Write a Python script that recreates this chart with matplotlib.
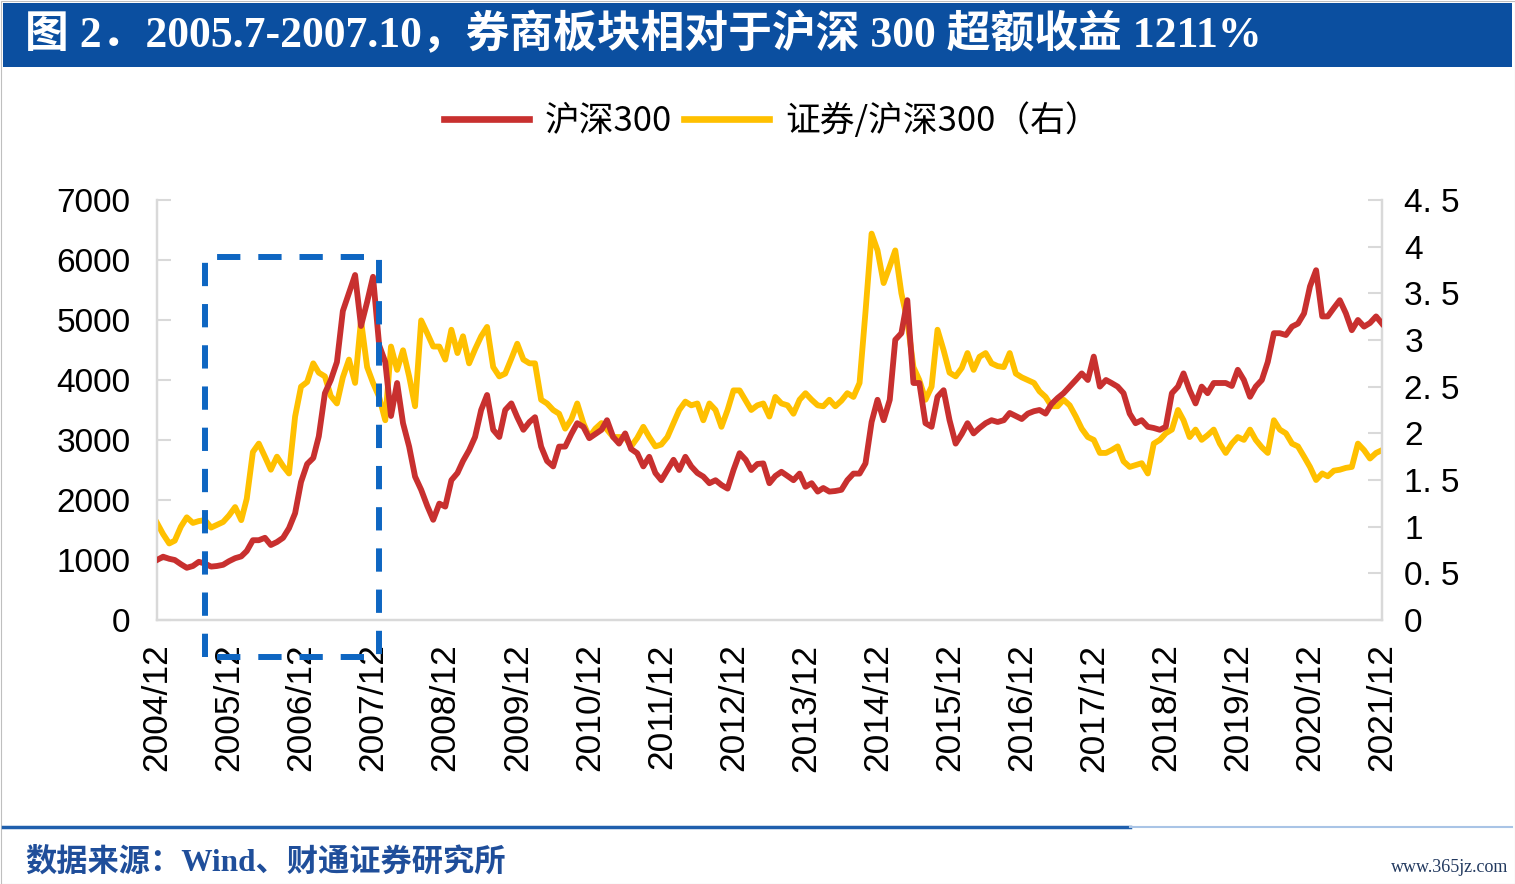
import matplotlib
matplotlib.use("Agg")
import matplotlib.pyplot as plt
from matplotlib.lines import Line2D
from matplotlib.patches import Rectangle
import pandas as pd

# ---------------- data ----------------
start_month = "2004-12-01"
end_month = "2021-12-01"

hs300 = [1000, 1055, 1020, 1000, 930, 870, 900, 970, 940, 890,
         900, 920, 980, 1030, 1060, 1150, 1330, 1330, 1370, 1250,
         1300, 1370, 1530, 1780, 2300, 2600, 2700, 3060, 3780, 4000,
         4300, 5150, 5450, 5750, 4900, 5300, 5720, 4580, 4300, 3400,
         3950, 3280, 2890, 2390, 2170, 1900, 1670, 1940, 1890, 2330,
         2450, 2650, 2830, 3050, 3500, 3750, 3170, 3050, 3500, 3610,
         3380, 3170, 3300, 3380, 2890, 2650, 2560, 2890, 2890, 3100,
         3280, 3220, 3030, 3100, 3170, 3330, 3050, 2940, 3110, 2850,
         2780, 2560, 2720, 2450, 2330, 2500, 2670, 2500, 2720, 2560,
         2450, 2390, 2280, 2330, 2250, 2190, 2500, 2780, 2670, 2500,
         2600, 2610, 2280, 2400, 2470, 2400, 2330, 2440, 2220, 2280,
         2140, 2200, 2140, 2150, 2170, 2330, 2440, 2440, 2610, 3300,
         3670, 3330, 3670, 4670, 4780, 5330, 3950, 3950, 3280, 3220,
         3720, 3830, 3330, 2940, 3100, 3280, 3110, 3200, 3280, 3330,
         3300, 3330, 3450, 3400, 3350, 3440, 3480, 3500, 3440, 3600,
         3700, 3780, 3890, 4000, 4110, 4000, 4390, 3890, 4000, 3950,
         3890, 3780, 3440, 3280, 3330, 3220, 3200, 3170, 3220, 3780,
         3890, 4110, 3830, 3610, 3890, 3780, 3950, 3950, 3950, 3900,
         4170, 4000, 3720, 3890, 4000, 4300, 4780, 4780, 4750, 4890,
         4940, 5110, 5560, 5830, 5060, 5060, 5200, 5330, 5110, 4830,
         5000, 4890, 4950, 5060, 4940]

ratio = [1.04, 0.92, 0.82, 0.85, 1.0, 1.1, 1.04, 1.06, 1.07, 0.99,
         1.02, 1.05, 1.12, 1.21, 1.07, 1.30, 1.80, 1.89, 1.75, 1.61,
         1.75, 1.65, 1.57, 2.18, 2.50, 2.55, 2.75, 2.65, 2.61, 2.40,
         2.32, 2.60, 2.79, 2.54, 3.21, 2.71, 2.54, 2.39, 2.14, 2.93,
         2.68, 2.89, 2.61, 2.29, 3.21, 3.07, 2.93, 2.93, 2.79, 3.11,
         2.86, 3.04, 2.75, 2.90, 3.04, 3.14, 2.71, 2.61, 2.64, 2.80,
         2.96, 2.79, 2.75, 2.75, 2.36, 2.32, 2.25, 2.21, 2.05, 2.15,
         2.32, 2.11, 1.96, 2.05, 2.11, 2.04, 1.96, 1.96, 1.96, 1.86,
         1.95, 2.07, 1.96, 1.86, 1.88, 1.96, 2.11, 2.25, 2.34, 2.30,
         2.32, 2.14, 2.32, 2.25, 2.07, 2.25, 2.46, 2.46, 2.35, 2.25,
         2.30, 2.32, 2.18, 2.39, 2.32, 2.30, 2.21, 2.36, 2.43, 2.36,
         2.30, 2.29, 2.36, 2.29, 2.35, 2.43, 2.39, 2.54, 3.30, 4.14,
         3.96, 3.61, 3.79, 3.96, 3.50, 3.21, 2.71, 2.57, 2.36, 2.50,
         3.11, 2.89, 2.65, 2.61, 2.70, 2.86, 2.68, 2.82, 2.86, 2.75,
         2.72, 2.71, 2.86, 2.64, 2.60, 2.57, 2.54, 2.45, 2.39, 2.29,
         2.29, 2.36, 2.30, 2.18, 2.05, 1.96, 1.93, 1.79, 1.79, 1.82,
         1.86, 1.70, 1.64, 1.66, 1.68, 1.57, 1.89, 1.93, 2.00, 2.04,
         2.25, 2.14, 1.96, 2.04, 1.93, 1.98, 2.04, 1.89, 1.79, 1.89,
         1.96, 1.93, 2.04, 1.93, 1.85, 1.79, 2.14, 2.04, 2.00, 1.89,
         1.86, 1.75, 1.64, 1.50, 1.57, 1.54, 1.60, 1.61, 1.63, 1.64,
         1.89, 1.82, 1.73, 1.79, 1.82]

left_ticks = [0, 1000, 2000, 3000, 4000, 5000, 6000, 7000]
right_ticks = [0, 0.5, 1, 1.5, 2, 2.5, 3, 3.5, 4, 4.5]
right_tick_labels = ["0", "0. 5", "1", "1. 5", "2", "2. 5", "3", "3. 5", "4", "4. 5"]

series_names = ["沪深300", "证券/沪深300（右）"]
title_text = "图 2．2005.7-2007.10，券商板块相对于沪深 300 超额收益 1211%"
source_text = "数据来源：Wind、财通证券研究所"

highlight_start = "2005-08-01"
highlight_end = "2008-01-01"
highlight_top = 6050
highlight_bottom = -620

# ---------------- style ----------------
RED = "#C8302F"
YELLOW = "#FFC000"
DASH_BLUE = "#0E66C2"
BAR_BLUE = "#0B4FA0"
SPINE = "#D9D9D9"
W, H = 1515, 884

dates = pd.date_range(start_month, end_month, freq="MS")
tick_dates = pd.date_range(start_month, end_month, freq="12MS")
tick_labels = [f"{d.year}/12" for d in tick_dates]

fig = plt.figure(figsize=(W / 100, H / 100), dpi=100)
fig.patch.set_facecolor("white")

ax = fig.add_axes([157 / W, 1 - 620 / H, (1382 - 157) / W, (620 - 200) / H])
ax2 = ax.twinx()

ax.plot(dates, hs300, color=RED, lw=4.2, solid_joinstyle="round", zorder=3)
ax2.plot(dates, ratio, color=YELLOW, lw=4.2, solid_joinstyle="round", zorder=2)
ax.set_zorder(ax2.get_zorder() + 1)
ax.patch.set_visible(False)

ax.set_xlim(dates[0], dates[-1])
ax.set_ylim(0, 7000)
ax2.set_ylim(0, 4.5)

ax.set_yticks(left_ticks)
ax.set_yticklabels([str(t) for t in left_ticks], fontfamily="Liberation Sans", fontsize=24)
ax2.set_yticks(right_ticks)
ax2.set_yticklabels(right_tick_labels, fontfamily="Liberation Sans", fontsize=24)
ax.set_xticks(tick_dates)
ax.set_xticklabels(tick_labels, rotation=90, fontfamily="Liberation Sans", fontsize=25.5)

ax.tick_params(axis="y", direction="in", length=10, width=1.5, color=SPINE, pad=19)
ax2.tick_params(axis="y", direction="in", length=10, width=1.5, color=SPINE, pad=16)
ax.tick_params(axis="x", length=0, pad=17)

for a in (ax, ax2):
    for s in a.spines.values():
        s.set_color(SPINE)
        s.set_linewidth(1.6)
    a.spines["top"].set_visible(False)

# highlight rectangle
x0, x1 = pd.Timestamp(highlight_start), pd.Timestamp(highlight_end)
ax.plot([x0, x0, x1, x1, x0], [highlight_bottom, highlight_top, highlight_top, highlight_bottom, highlight_bottom],
        color=DASH_BLUE, lw=4.3, dashes=(3.9, 3.0), clip_on=False, zorder=5, solid_capstyle="butt")

# legend
handles = [Line2D([], [], color=RED, lw=4.8), Line2D([], [], color=YELLOW, lw=4.8)]
fig.legend(handles, series_names, loc="center", bbox_to_anchor=(772 / W, 1 - 121 / H), ncol=2,
           frameon=False, handlelength=2.45, handletextpad=0.45, columnspacing=0.35,
           prop={"family": ["Noto Sans CJK SC"], "size": 25})

# title bar
fig.patches.append(Rectangle((3 / W, 1 - 67 / H), 1509 / W, 64 / H, transform=fig.transFigure,
                             facecolor=BAR_BLUE, edgecolor="none", zorder=0))
fig.text(25 / W, 1 - 35 / H, title_text, color="white", fontsize=31.5, fontweight="bold",
         family=["Liberation Serif", "Noto Sans CJK SC"], va="center", ha="left")

# footer
fig.add_artist(Line2D([3 / W, 1130 / W], [1 - 827 / H] * 2, color="#1F5FAD", lw=2.5))
fig.add_artist(Line2D([1130 / W, 1512 / W], [1 - 827 / H] * 2, color="#A9C4E6", lw=1.5))
fig.text(25 / W, 1 - 862 / H, source_text, color="#1F4E9A", fontsize=22.5, fontweight="bold",
         family=["Liberation Serif", "Noto Sans CJK SC"], va="center", ha="left")
fig.text(1508 / W, 1 - 868 / H, "www.365jz.com", color="#22395F", fontsize=13,
         family=["Liberation Serif"], va="center", ha="right")

# outer frame
fig.patches.append(Rectangle((0.5 / W, 0.5 / H), (W - 1) / W, (H - 1) / H, transform=fig.transFigure,
                             facecolor="none", edgecolor="#BFBFBF", lw=0.8, zorder=0))

fig.savefig("out.png", dpi=100)
